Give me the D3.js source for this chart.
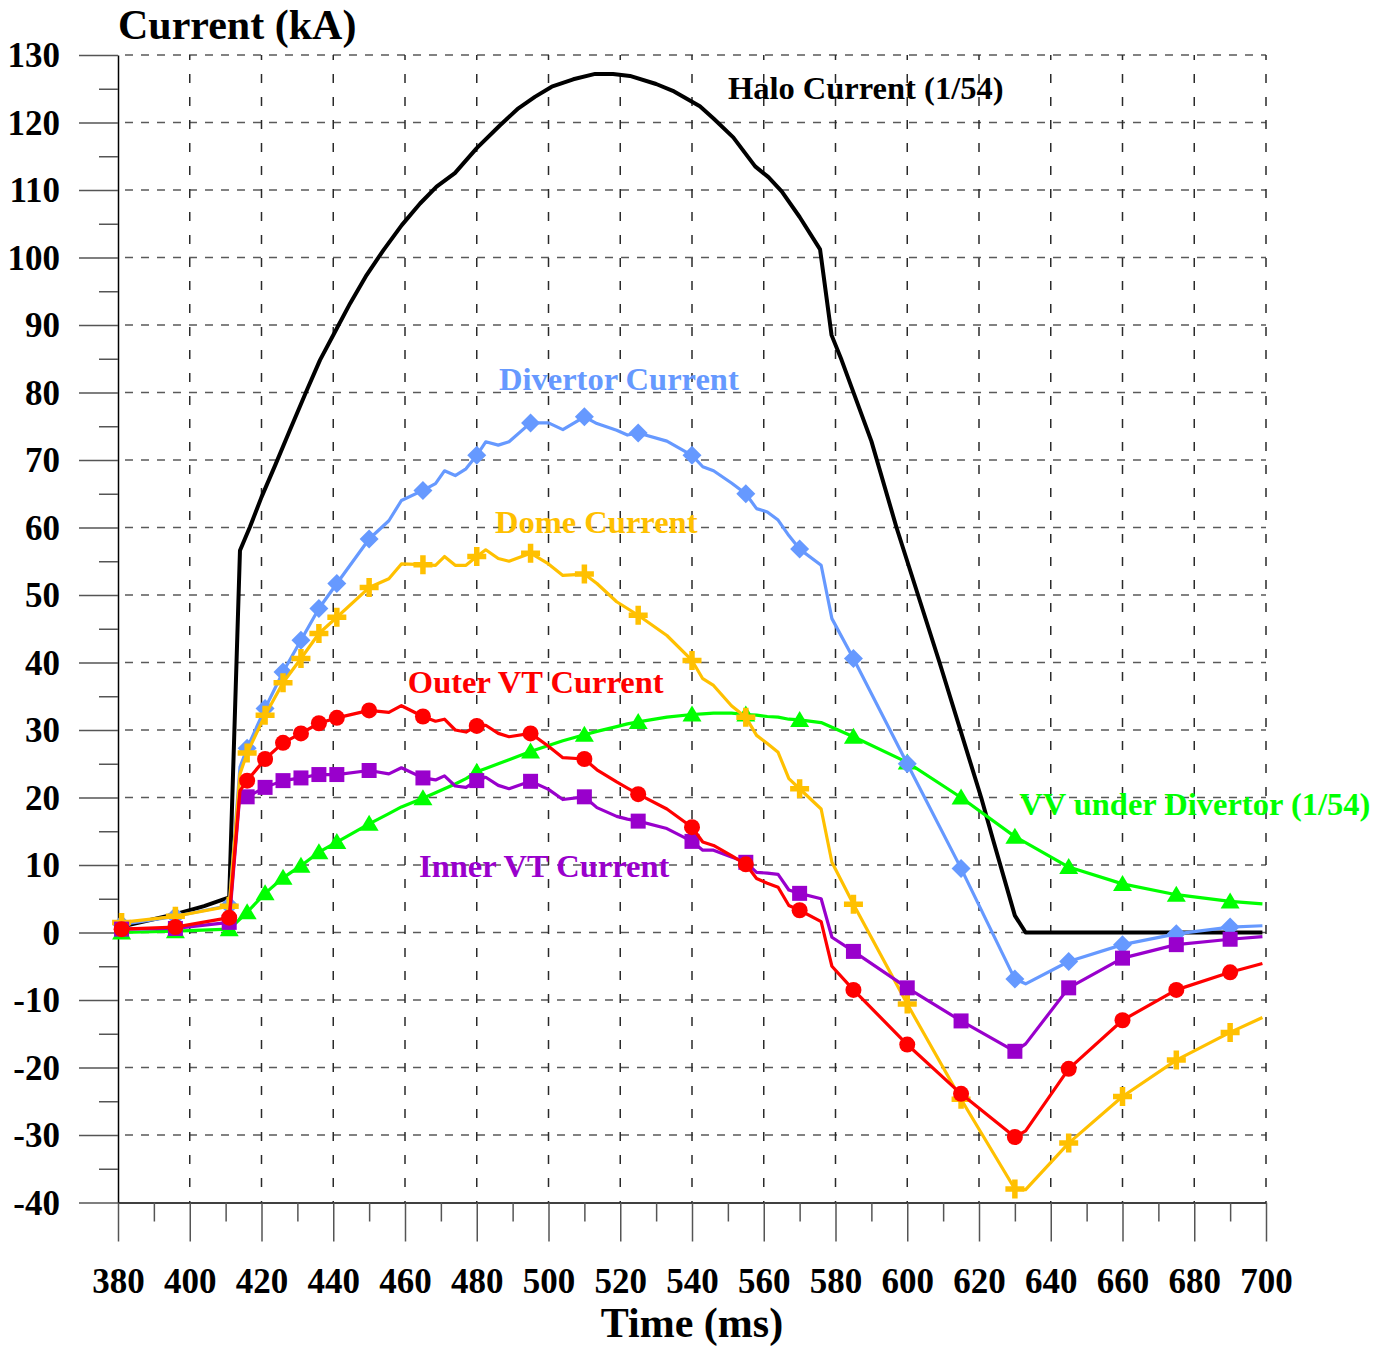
<!DOCTYPE html>
<html>
<head>
<meta charset="utf-8">
<script src="https://cdn.jsdelivr.net/npm/d3@7"></script>
<style>
  html, body { margin: 0; padding: 0; background: #ffffff; }
  svg { display: block; font-family: "Liberation Serif", "Times New Roman", serif; font-weight: bold; }
</style>
</head>
<body>
<svg id="chart" width="1396" height="1351"></svg>
<script>
// Sample times (ms) shared by the five marked series
const times = [381, 396, 411, 414, 416, 421, 426, 431, 436, 441,
  450, 455.5, 459, 465, 468.5, 471, 474, 477, 480, 482.5,
  486, 489, 495, 500, 504, 510, 513.5, 519, 522, 525,
  533, 540, 543, 546, 551, 555, 558, 561, 564, 567,
  570, 576, 579, 585, 600, 615, 630, 633, 645, 660,
  675, 690, 699];

// Times that carry a marker symbol
const markerTimes = [381, 396, 411, 416, 421, 426, 431, 436, 441, 450, 465, 480, 495,
  510, 525, 540, 555, 570, 585, 600, 615, 630, 645, 660, 675, 690];

// Currents in kA
const divertorCurrent = [1.2, 2.4, 4.0, 24.5, 27.3, 33.2, 38.6, 43.3, 48.0, 51.7,
  58.3, 61.0, 64.0, 65.5, 66.5, 68.4, 67.7, 68.7, 70.7, 72.7,
  72.2, 72.7, 75.5, 75.5, 74.5, 76.4, 75.4, 74.4, 73.7, 74.0,
  72.8, 70.7, 69.0, 68.4, 66.6, 65.0, 62.8, 62.3, 61.1, 58.8,
  56.8, 54.4, 46.5, 40.6, 25.0, 9.5, -6.9, -7.6, -4.3, -1.8,
  -0.2, 0.8, 1.0];

const domeCurrent = [1.5, 2.4, 3.9, 23.5, 26.6, 32.2, 37.0, 40.6, 44.3, 46.7,
  51.1, 52.4, 54.6, 54.5, 54.4, 55.7, 54.4, 54.4, 55.7, 56.7,
  55.4, 55.0, 56.2, 54.6, 52.9, 53.1, 51.7, 49.0, 48.0, 47.0,
  44.0, 40.3, 37.6, 36.6, 33.6, 31.9, 29.2, 28.0, 26.7, 22.8,
  21.3, 18.3, 10.4, 4.2, -10.6, -24.7, -38.0, -38.1, -31.2, -24.3,
  -18.9, -14.8, -12.6];

const outerVTCurrent = [0.5, 0.8, 2.2, 21.0, 22.5, 25.7, 28.1, 29.5, 31.0, 31.8,
  32.9, 32.6, 33.6, 32.0, 31.3, 31.6, 30.0, 29.7, 30.6, 30.7,
  29.5, 29.0, 29.5, 27.6, 25.9, 25.7, 24.1, 22.3, 21.4, 20.5,
  18.3, 15.6, 13.4, 12.9, 11.4, 10.1, 8.0, 7.3, 6.7, 4.0,
  3.3, 1.6, -5.0, -8.5, -16.6, -23.9, -30.3, -29.4, -20.2, -13.0,
  -8.5, -5.9, -4.6];

const innerVTCurrent = [0.5, 0.6, 1.5, 20.6, 20.1, 21.5, 22.5, 22.9, 23.4, 23.4,
  24.0, 23.5, 24.4, 22.9, 22.6, 23.2, 21.7, 21.5, 22.5, 23.0,
  21.8, 21.3, 22.4, 21.2, 19.7, 20.1, 18.5, 17.2, 16.8, 16.5,
  15.4, 13.5, 12.2, 12.2, 11.2, 10.4, 8.9, 8.8, 8.6, 6.3,
  5.8, 5.0, -0.7, -2.8, -8.2, -13.1, -17.6, -16.5, -8.2, -3.8,
  -1.8, -1.0, -0.6];

const vvUnderDivertor = [0.0, 0.2, 0.5, 2.0, 3.0, 5.8, 8.1, 9.9, 11.9, 13.4,
  16.1, 17.6, 18.6, 19.9, 20.7, 21.3, 22.0, 22.8, 23.8, 24.3,
  25.0, 25.6, 26.8, 27.7, 28.4, 29.3, 29.8, 30.5, 30.9, 31.2,
  31.9, 32.3, 32.4, 32.5, 32.5, 32.3, 32.2, 32.0, 31.9, 31.6,
  31.5, 31.1, 30.4, 29.0, 25.2, 20.0, 14.2, 13.3, 9.7, 7.2,
  5.6, 4.6, 4.25];

// Halo current (scaled 1/54), sampled on its own time base
const haloTimes = [381, 396, 404, 411, 414, 416.8, 420, 423.8, 427.9, 432.6,
  436.3, 440.5, 444.7, 449.3, 454, 459.1, 464.2, 468.8, 473.9, 480,
  486.5, 491.6, 496.2, 500.9, 506.9, 513, 518, 522.7, 530, 535,
  542.2, 546, 551.5, 557.6, 561.3, 565, 570, 575.7, 578.9, 581.7,
  590, 597, 609, 620.6, 624, 630, 633, 699];
const haloCurrent = [0.9, 2.7, 3.9, 5.2, 56.6, 60.1, 64.5, 69.2, 74.4, 80.3,
  84.8, 89.0, 93.2, 97.4, 101.1, 104.8, 108.0, 110.5, 112.5, 116.2,
  119.6, 122.1, 123.8, 125.3, 126.4, 127.2, 127.2, 126.9, 125.7, 124.6,
  122.4, 120.6, 117.8, 113.5, 111.9, 109.8, 106.0, 101.2, 88.5, 84.8,
  72.8, 60, 40, 20, 13.6, 2.5, 0, 0];

// Axis tick values
const xTicks = [380, 400, 420, 440, 460, 480, 500, 520, 540, 560, 580, 600, 620, 640, 660, 680, 700];
const xMinorTicks = [390, 410, 430, 450, 470, 490, 510, 530, 550, 570, 590, 610, 630, 650, 670, 690];
const yTicks = [-40, -30, -20, -10, 0, 10, 20, 30, 40, 50, 60, 70, 80, 90, 100, 110, 120, 130];
const yMinorTicks = [-35, -25, -15, -5, 5, 15, 25, 35, 45, 55, 65, 75, 85, 95, 105, 115, 125];

// ---- layout ----
const svg = d3.select("#chart");
const x = d3.scaleLinear().domain([380, 700]).range([118, 1266]);
const y = d3.scaleLinear().domain([-40, 130]).range([1202.5, 55]);

// grid
const grid = svg.append("g");
grid.selectAll("line.h").data(yTicks.filter(d => d > -40)).join("line")
  .attr("x1", x(380)).attr("x2", x(700))
  .attr("y1", d => y(d)).attr("y2", d => y(d))
  .attr("stroke", "#5a5a5a").attr("stroke-width", 1.5)
  .attr("stroke-dasharray", "8,8").attr("stroke-dashoffset", -7);
grid.selectAll("line.v").data(xTicks.filter(d => d > 380)).join("line")
  .attr("x1", d => x(d)).attr("x2", d => x(d))
  .attr("y1", y(130)).attr("y2", y(-40))
  .attr("stroke", "#2a2a2a").attr("stroke-width", 1.5)
  .attr("stroke-dasharray", "9,14").attr("stroke-dashoffset", 4);

// y axis: major and minor ticks
const plain = d => String(d);
const yAxis = svg.append("g").attr("transform", `translate(${x(380)},0)`)
  .call(d3.axisLeft(y).tickValues(yTicks).tickFormat(plain).tickSize(39).tickPadding(19).tickSizeOuter(0));
svg.append("g").attr("transform", `translate(${x(380)},0)`)
  .call(d3.axisLeft(y).tickValues(yMinorTicks).tickSize(19).tickFormat("").tickSizeOuter(0))
  .call(g => g.select(".domain").remove());

// x axis: major and minor ticks
const xAxis = svg.append("g").attr("transform", `translate(0,${y(-40)})`)
  .call(d3.axisBottom(x).tickValues(xTicks).tickFormat(plain).tickSize(39).tickPadding(27).tickSizeOuter(0));
svg.append("g").attr("transform", `translate(0,${y(-40)})`)
  .call(d3.axisBottom(x).tickValues(xMinorTicks).tickSize(19).tickFormat("").tickSizeOuter(0))
  .call(g => g.select(".domain").remove());

svg.selectAll(".tick line").attr("stroke", "#555").attr("stroke-width", 1.5);
svg.selectAll(".domain").attr("stroke", "#000").attr("stroke-width", 1.5);
svg.selectAll(".tick text")
  .attr("fill", "#000")
  .style("font-family", "'Liberation Serif', 'Times New Roman', serif")
  .style("font-weight", "bold")
  .style("font-size", "35px");
yAxis.selectAll(".tick text").attr("dy", "0.33em");

// axis titles
svg.append("text").attr("x", 118).attr("y", 39)
  .style("font-size", "42px").attr("fill", "#000").text("Current (kA)");
svg.append("text").attr("x", (x(380) + x(700)) / 2).attr("y", 1337)
  .attr("text-anchor", "middle")
  .style("font-size", "42px").attr("fill", "#000").text("Time (ms)");

// ---- series ----
const line = d3.line().x(d => x(d[0])).y(d => y(d[1]));
const zip = (ts, vs) => ts.map((t, i) => [t, vs[i]]);

// halo current: plain black curve
svg.append("path")
  .datum(zip(haloTimes, haloCurrent))
  .attr("d", line)
  .attr("fill", "none").attr("stroke", "#000").attr("stroke-width", 4)
  .attr("stroke-linejoin", "round");

const markerShapes = {
  triangle: "M0,-9L9.5,7L-9.5,7Z",
  diamond: "M0,-9.5L9.5,0L0,9.5L-9.5,0Z",
  square: "M-7.5,-7.5H7.5V7.5H-7.5Z",
  circle: d3.symbol(d3.symbolCircle, Math.PI * 8 * 8)(),
  plus: "M-9.5,0H9.5M0,-9.5V9.5"
};

const series = [
  { name: "vv", values: vvUnderDivertor, color: "#00ff00", marker: "triangle" },
  { name: "divertor", values: divertorCurrent, color: "#6699ff", marker: "diamond" },
  { name: "dome", values: domeCurrent, color: "#ffc000", marker: "plus" },
  { name: "inner", values: innerVTCurrent, color: "#9900cc", marker: "square" },
  { name: "outer", values: outerVTCurrent, color: "#ff0000", marker: "circle" }
];

series.forEach(s => {
  const pts = zip(times, s.values);
  const g = svg.append("g").attr("class", "series " + s.name);
  g.append("path").datum(pts).attr("d", line)
    .attr("fill", "none").attr("stroke", s.color).attr("stroke-width", 3.2)
    .attr("stroke-linejoin", "round");
  const marked = pts.filter(p => markerTimes.includes(p[0]));
  const m = g.selectAll("path.m").data(marked).join("path")
    .attr("class", "m")
    .attr("transform", d => `translate(${x(d[0])},${y(d[1])})`)
    .attr("d", markerShapes[s.marker]);
  if (s.marker === "plus") {
    m.attr("fill", "none").attr("stroke", s.color).attr("stroke-width", 5.5);
  } else {
    m.attr("fill", s.color).attr("stroke", "none");
  }
});

// series labels, anchored in data space
const seriesLabels = [
  { text: "Halo Current (1/54)", t: 550.0, v: 123.5, color: "#000000" },
  { text: "Divertor Current", t: 486.2, v: 80.3, color: "#6699ff" },
  { text: "Dome Current", t: 485.1, v: 59.2, color: "#ffc000" },
  { text: "Outer VT Current", t: 460.8, v: 35.5, color: "#ff0000" },
  { text: "Inner VT Current", t: 463.9, v: 8.2, color: "#9900cc" },
  { text: "VV under Divertor (1/54)", t: 631.2, v: 17.4, color: "#00ff00" }
];
svg.append("g").selectAll("text").data(seriesLabels).join("text")
  .attr("x", d => x(d.t)).attr("y", d => y(d.v))
  .attr("fill", d => d.color)
  .style("font-size", "32.5px")
  .text(d => d.text);
</script>
</body>
</html>
